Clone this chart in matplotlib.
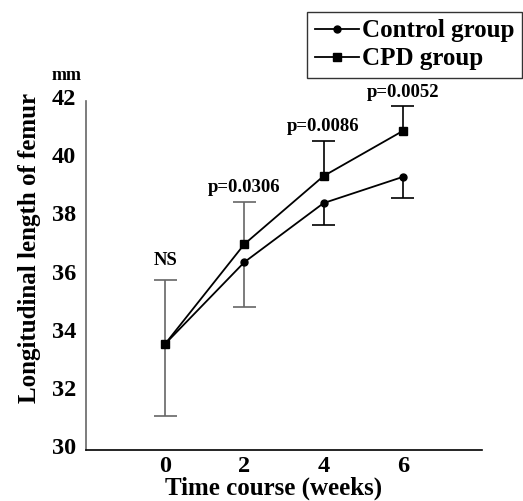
import numpy as np
import matplotlib.pyplot as plt
from matplotlib.transforms import ScaledTranslation

plt.rcParams['font.family'] = 'Liberation Serif'
plt.rcParams['font.weight'] = 'bold'

weeks = [0, 2, 4, 6]
control = [33.65, 36.46, 38.49, 39.39]
cpd = [33.65, 37.08, 39.42, 40.97]
control_lower = [31.17, 34.92, 37.74, 38.67]   # lower error bar ends
cpd_upper = [35.85, 38.53, 40.63, 41.83]       # upper error bar ends
p_labels = ['NS', 'p=0.0306', 'p=0.0086', 'p=0.0052']
p_label_y = [36.5, 39.04, 41.12, 42.3]

fig = plt.figure(figsize=(5.23, 5.01), dpi=100)
ax = fig.add_axes([86/523, 1-450/501, 396/523, 349/501])

gray = '#666666'
bar_colors = [gray, gray, 'black', 'black']
cap = 0.29  # half cap width in weeks
for i, w in enumerate(weeks):
    c = bar_colors[i]
    ax.vlines(w, control_lower[i], control[i], color=c, lw=1.2, zorder=1)
    ax.hlines(control_lower[i], w - cap, w + cap, color=c, lw=1.2, zorder=1)
    ax.vlines(w, cpd[i], cpd_upper[i], color=c, lw=1.2, zorder=1)
    ax.hlines(cpd_upper[i], w - cap, w + cap, color=c, lw=1.2, zorder=1)

ax.plot(weeks, control, color='black', lw=1.3, marker='o', ms=5, label='Control group', zorder=3)
ax.plot(weeks, cpd, color='black', lw=1.3, marker='s', ms=5.5, label='CPD group', zorder=3)

for w, t, y in zip(weeks, p_labels, p_label_y):
    ax.text(w, y, t, ha='center', va='center', fontsize=13.5, fontweight='bold', clip_on=False)

ax.set_xlim(-2, 8)
ax.set_ylim(30, 42)
ax.set_xticks(weeks)
ax.set_yticks([30, 32, 34, 36, 38, 40, 42])
ax.tick_params(length=0, labelsize=17.5)
ax.tick_params(axis='y', pad=7)
ax.tick_params(axis='x', pad=4)
for lab in ax.get_xticklabels() + ax.get_yticklabels():
    lab.set_fontweight('bold')
for lab in ax.get_yticklabels():
    lab.set_transform(lab.get_transform() + ScaledTranslation(0, 4/100, fig.dpi_scale_trans))
ax.spines['top'].set_visible(False)
ax.spines['right'].set_visible(False)
ax.spines['left'].set_color(gray)
ax.spines['left'].set_linewidth(1.2)
ax.spines['bottom'].set_linewidth(1.2)

fig.text(274/523, 1-488/501, 'Time course (weeks)', ha='center', va='center',
         fontsize=18, fontweight='bold')
fig.text(30/523, 1-248/501, 'Longitudinal length of femur', rotation=90,
         ha='center', va='center', fontsize=18, fontweight='bold')
fig.text(67/523, 1-75/501, 'mm', ha='center', va='center', fontsize=13, fontweight='bold')

leg = fig.legend(loc='upper right', bbox_to_anchor=(0.999, 1-12/501), frameon=True,
                 fancybox=False, edgecolor='black', fontsize=18, handlelength=1.75,
                 handletextpad=0.15, borderpad=0.3, labelspacing=0.2, borderaxespad=0)
leg.get_frame().set_linewidth(1.0)
for t in leg.get_texts():
    t.set_fontweight('bold')

fig.savefig('out.png', dpi=100)
